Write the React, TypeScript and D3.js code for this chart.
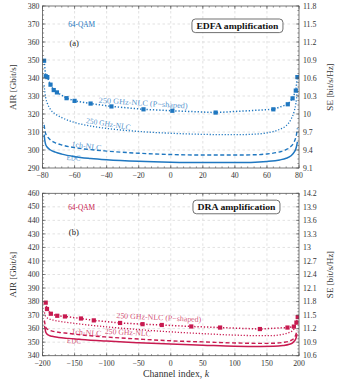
import * as d3 from 'd3';

const BLUE = '#1f77c0';
const RED = '#c81a50';
const FONT = '"Liberation Serif", "DejaVu Serif", serif';

// ---- (a) EDFA amplification, channel index -80..80 ----
const edfaX = [-79, -78.5, -78, -77, -75, -72, -68, -60, -50, -40, -20, 0, 20, 40, 50, 60, 68, 72, 75, 77, 78, 78.5, 79];
const edfaEDC = [308.5, 305, 303, 301.5, 300, 298.8, 297.7, 296.3, 295.3, 294.6, 293.7, 293.2, 293, 293, 293.1, 293.6, 294.5, 295.4, 296.8, 298.8, 300.6, 302.2, 304.5];
const edfa1ch = [314, 311, 309, 307.5, 305.5, 304, 302.8, 301.3, 300.2, 299.4, 298.2, 297.5, 297.2, 297.2, 297.3, 297.8, 299, 300.2, 302, 304.5, 307, 309, 312];
const edfa250 = [336, 332, 329, 326, 322.5, 320, 318, 315.3, 313.3, 312, 310.3, 309.3, 308.7, 308.5, 308.7, 309.5, 311.5, 313.5, 317, 321.5, 325.5, 329, 334];
const edfaPX = [-79, -78, -77, -75, -73, -71, -65, -60, -50, -37, -17, 1, 28, 64, 73, 76, 78, 79];
const edfaPY = [349.6, 341, 340.5, 336.3, 333.3, 332, 328.8, 327.3, 325.8, 324.2, 322.6, 321.8, 320.8, 322.6, 325.4, 328.7, 333, 340.5];
const edfaXTicks = [-80, -60, -40, -20, 0, 20, 40, 60, 80];
const edfaAIRTicks = [290, 300, 310, 320, 330, 340, 350, 360, 370, 380];
const edfaSETicks = [9.1, 9.4, 9.7, 10, 10.3, 10.6, 10.9, 11.2, 11.5, 11.8];

// ---- (b) DRA amplification, channel index -200..200 ----
const draX = [-197, -196, -195, -193, -190, -185, -175, -160, -140, -100, -50, 0, 50, 100, 140, 160, 175, 185, 190, 193, 195, 196, 197];
const draEDC = [362, 360, 357.5, 356, 355, 354.3, 353.5, 352.8, 352, 350.8, 349.6, 348.6, 347.8, 347, 346.8, 346.9, 347.5, 348.5, 349.5, 351, 352.5, 354, 356];
const dra1ch = [366, 363, 361, 359.8, 359, 358.2, 357.3, 356.5, 355.4, 353.8, 352.3, 351, 350.2, 349.4, 349.1, 349.2, 349.8, 350.8, 352, 353.5, 355.5, 357, 359];
const dra250 = [372, 370, 369, 368, 367.3, 366.5, 365.5, 364.5, 363.3, 361.3, 359.3, 357.6, 356.3, 355.2, 354.8, 354.9, 355.8, 357.2, 358.5, 360.3, 362.5, 364.5, 367];
const draPX = [-195, -193, -187, -177, -165, -140, -120, -79, -44, -14, 32, 77, 139, 182, 192, 196, 198];
const draPY = [379.2, 374.5, 371, 369.5, 369, 367.5, 366.1, 364.2, 363.3, 362.7, 361.6, 360.8, 359.7, 360.8, 361.5, 364.5, 368.5];
const draXTicks = [-200, -150, -100, -50, 0, 50, 100, 150, 200];
const draAIRTicks = [340, 350, 360, 370, 380, 390, 400, 410, 420, 430, 440, 450, 460];
const draSETicks = [10.6, 10.9, 11.2, 11.5, 11.8, 12.1, 12.4, 12.7, 13, 13.3, 13.6, 13.9, 14.2];

const curveNames = ['250 GHz-NLC (P\u2212shaped)', '250 GHz-NLC', '1ch-NLC', 'EDC'];

const fmt = (v: number) => (Number.isInteger(v) ? String(v) : v.toFixed(1)).replace('-', '\u2212');

const L = 42.5;
const R = 299;

interface Label { text: string; x: number; y: number; angle: number; len: number }

interface PanelProps {
  id: string;
  top: number;
  bottom: number;
  color: string;
  xTicks: number[];
  airTicks: number[];
  seTicks: number[];
  cx: number[];
  edc: number[];
  one: number[];
  nlc: number[];
  px: number[];
  py: number[];
  labels: Label[];
  tag: string;
  box: string;
  boxW: number;
  boxTextW: number;
  qam: [number, number];
  tagPos: [number, number];
  boxPos: [number, number];
}

function Panel(p: PanelProps) {
  const x = d3.scaleLinear().domain(d3.extent(p.xTicks) as [number, number]).range([L, R]);
  const y = d3.scaleLinear().domain(d3.extent(p.airTicks) as [number, number]).range([p.bottom, p.top]);
  const se = d3.scaleLinear().domain(d3.extent(p.seTicks) as [number, number]).range([p.bottom, p.top]);

  const line = d3.line<[number, number]>().x(d => x(d[0])).y(d => y(d[1])).curve(d3.curveMonotoneX);
  const poly = d3.line<[number, number]>().x(d => x(d[0])).y(d => y(d[1]));
  const pts = (xs: number[], ys: number[]) => xs.map((v, i) => [v, ys[i]] as [number, number]);

  const xStep = p.xTicks[1] - p.xTicks[0];
  const yStep = p.airTicks[1] - p.airTicks[0];
  const xMinor = d3.range(p.xTicks[0], p.xTicks[p.xTicks.length - 1] + 1e-9, xStep / 5);
  const yMinor = d3.range(p.airTicks[0], p.airTicks[p.airTicks.length - 1] + 1e-9, yStep / 4);
  const axisCol = '#555';
  const mid = (p.top + p.bottom) / 2;

  return (
    <g fontFamily={FONT}>
      <defs>
        <clipPath id={`clip-${p.id}`}>
          <rect x={L} y={p.top} width={R - L} height={p.bottom - p.top} />
        </clipPath>
      </defs>
      {/* grid */}
      {p.xTicks.slice(1, -1).map(t => (
        <line key={`gx${t}`} x1={x(t)} x2={x(t)} y1={p.top} y2={p.bottom} stroke="#cfcfcf" strokeWidth={0.6} strokeDasharray="2.5 2.5" />
      ))}
      {p.airTicks.slice(1, -1).map(t => (
        <line key={`gy${t}`} x1={L} x2={R} y1={y(t)} y2={y(t)} stroke="#cfcfcf" strokeWidth={0.6} strokeDasharray="2.5 2.5" />
      ))}
      {/* curves */}
      <g clipPath={`url(#clip-${p.id})`} fill="none" stroke={p.color}>
        <path d={line(pts(p.cx, p.edc)) || ''} strokeWidth={1.5} />
        <path d={line(pts(p.cx, p.one)) || ''} strokeWidth={1.4} strokeDasharray="4 2.5" />
        <path d={line(pts(p.cx, p.nlc)) || ''} strokeWidth={1.3} strokeDasharray="1.2 1.8" />
        <path d={poly(pts(p.px, p.py)) || ''} strokeWidth={1.5} strokeDasharray="1.3 1.9" />
        {p.px.map((v, i) => (
          <rect key={i} x={x(v) - 2.1} y={y(p.py[i]) - 2.1} width={4.2} height={4.2} fill={p.color} stroke="none" />
        ))}
      </g>
      {/* curve labels */}
      {p.labels.map(l => (
        <text key={l.text} x={x(l.x)} y={y(l.y)} transform={`rotate(${l.angle},${x(l.x)},${y(l.y)})`}
          fontSize={7.8} fill={p.color} fillOpacity={0.8} textLength={l.len} lengthAdjust="spacingAndGlyphs">{l.text}</text>
      ))}
      {/* annotations */}
      <text x={x(p.qam[0])} y={y(p.qam[1])} fontSize={8.6} fill={p.color} textLength={27} lengthAdjust="spacingAndGlyphs">{p.tag}</text>
      <text x={x(p.tagPos[0])} y={y(p.tagPos[1])} fontSize={8.6} fill="#222">{p.id === 'a' ? '(a)' : '(b)'}</text>
      <rect x={x(p.boxPos[0]) - p.boxW / 2} y={y(p.boxPos[1]) - 6.8} width={p.boxW} height={13.6} rx={3.5} fill="#fff" stroke="#333" strokeWidth={0.7} />
      <text x={x(p.boxPos[0])} y={y(p.boxPos[1]) + 3} fontSize={9} fontWeight="bold" textAnchor="middle" fill="#111"
        textLength={p.boxTextW} lengthAdjust="spacingAndGlyphs">{p.box}</text>
      {/* frame */}
      <rect x={L} y={p.top} width={R - L} height={p.bottom - p.top} fill="none" stroke={axisCol} strokeWidth={0.8} />
      {/* ticks */}
      <g stroke={axisCol} strokeWidth={0.6}>
        {xMinor.map(t => (
          <g key={`xm${t}`}>
            <line x1={x(t)} x2={x(t)} y1={p.bottom} y2={p.bottom - 1.6} />
            <line x1={x(t)} x2={x(t)} y1={p.top} y2={p.top + 1.6} />
          </g>
        ))}
        {p.xTicks.map(t => (
          <g key={`xM${t}`}>
            <line x1={x(t)} x2={x(t)} y1={p.bottom} y2={p.bottom - 3.2} />
            <line x1={x(t)} x2={x(t)} y1={p.top} y2={p.top + 3.2} />
          </g>
        ))}
        {yMinor.map(t => (
          <line key={`ym${t}`} x1={L} x2={L + 1.6} y1={y(t)} y2={y(t)} />
        ))}
        {p.airTicks.map(t => (
          <line key={`yM${t}`} x1={L} x2={L + 3.2} y1={y(t)} y2={y(t)} />
        ))}
        {p.seTicks.map(t => (
          <line key={`sM${t}`} x1={R} x2={R - 3.2} y1={se(t)} y2={se(t)} />
        ))}
        {yMinor.map(t => (
          <line key={`sm${t}`} x1={R} x2={R - 1.6} y1={y(t)} y2={y(t)} />
        ))}
      </g>
      {/* tick labels */}
      <g fontSize={7.8} fill="#333">
        {p.xTicks.map(t => (
          <text key={`xl${t}`} x={x(t)} y={p.bottom + 10} textAnchor="middle">{fmt(t)}</text>
        ))}
        {p.airTicks.map(t => (
          <text key={`yl${t}`} x={L - 3} y={y(t) + 2.6} textAnchor="end">{fmt(t)}</text>
        ))}
        {p.seTicks.map(t => (
          <text key={`sl${t}`} x={R + 4} y={se(t) + 2.7}>{fmt(t)}</text>
        ))}
      </g>
      <text transform={`translate(16,${mid}) rotate(-90)`} textAnchor="middle" fontSize={9} fill="#333">AIR [Gbit/s]</text>
      <text transform={`translate(333,${mid}) rotate(-90)`} textAnchor="middle" fontSize={9} fill="#333">SE [bit/s/Hz]</text>
    </g>
  );
}

export default function App() {
  return (
    <svg width={347} height={388} viewBox="0 0 347 388" style={{ position: 'absolute', left: 0, top: 0, background: '#fff' }}>
      <Panel id="a" top={6} bottom={168} color={BLUE}
        xTicks={edfaXTicks} airTicks={edfaAIRTicks} seTicks={edfaSETicks}
        cx={edfaX} edc={edfaEDC} one={edfa1ch} nlc={edfa250} px={edfaPX} py={edfaPY}
        labels={[
          { text: curveNames[0], x: -45, y: 326.3, angle: 3.8, len: 89 },
          { text: curveNames[1], x: -53, y: 315, angle: 9, len: 45 },
          { text: curveNames[2], x: -62, y: 302, angle: 8, len: 30 },
          { text: curveNames[3], x: -65, y: 294.4, angle: 3, len: 14 },
        ]}
        tag="64-QAM" box="EDFA amplification" boxW={91} boxTextW={82}
        qam={[-64, 368.6]} tagPos={[-63.2, 357.8]} boxPos={[41.6, 369]} />
      <Panel id="b" top={193.3} bottom={355.7} color={RED}
        xTicks={draXTicks} airTicks={draAIRTicks} seTicks={draSETicks}
        cx={draX} edc={draEDC} one={dra1ch} nlc={dra250} px={draPX} py={draPY}
        labels={[
          { text: curveNames[0], x: -85, y: 367.8, angle: 2.7, len: 85 },
          { text: curveNames[1], x: -103, y: 356.2, angle: 3, len: 46 },
          { text: curveNames[2], x: -155, y: 356, angle: 4, len: 30 },
          { text: curveNames[3], x: -162, y: 349.3, angle: 3, len: 14 },
        ]}
        tag="64-QAM" box="DRA amplification" boxW={87} boxTextW={78}
        qam={[-160, 448]} tagPos={[-158.9, 429.2]} boxPos={[102.5, 449.9]} />
      <text x={176} y={377} textAnchor="middle" fontFamily={FONT} fontSize={9.8} fill="#333">
        Channel index, <tspan fontStyle="italic">k</tspan>
      </text>
    </svg>
  );
}
